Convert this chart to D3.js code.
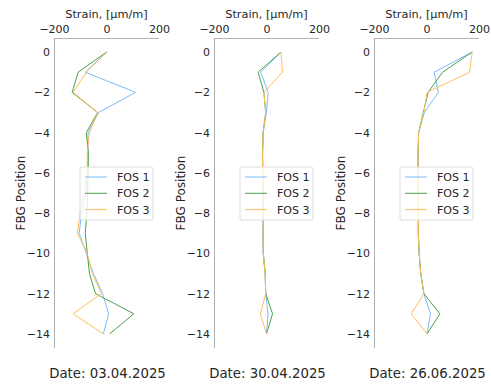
<!DOCTYPE html>
<html><head><meta charset="utf-8">
<script src="https://cdn.jsdelivr.net/npm/d3@7"></script>
<style>html,body{margin:0;padding:0;background:#fff;} svg{display:block;font-family:"DejaVu Sans",sans-serif;}</style>
</head><body><svg id="c" width="491" height="385"></svg>
<script>
const positions = [0,-1,-2,-3,-4,-5,-6,-7,-8,-9,-10,-11,-12,-13,-14];
const seriesNames = ["FOS 1","FOS 2","FOS 3"];
const dates = ["Date: 03.04.2025","Date: 30.04.2025","Date: 26.06.2025"];
const xTicks = [-200,0,200];
const yTicks = [0,-2,-4,-6,-8,-10,-12,-14];

// Panel 1: 03.04.2025
const p1_fos1 = [0,-81,111,-30,-70,-72,-72,-80,-95,-104,-77,-50,-15,8,-12];
const p1_fos2 = [0,-108,-131,-34,-77,-69,-70,-72,-75,-81,-73,-65,-42,104,12];
const p1_fos3 = [0,-77,-127,-34,-65,-73,-74,-85,-100,-111,-73,-54,-19,-127,-12];
// Panel 2: 30.04.2025
const p2_fos1 = [55,-22,6,0,-13,-15,-15,-14,-12,-13,-13,-5,-3,6,0];
const p2_fos2 = [55,-32,-10,-3,-13,-15,-14,-13,-12,-13,-12,-5,-3,23,0];
const p2_fos3 = [55,61,-10,-3,-13,-15,-15,-14,-12,-13,-12,-5,-3,-23,0];
// Panel 3: 26.06.2025
const p3_fos1 = [174,29,45,-8,-30,-32,-32,-31,-31,-32,-28,-22,-10,15,2];
const p3_fos2 = [174,61,6,-12,-30,-32,-32,-31,-31,-31,-28,-22,-10,51,2];
const p3_fos3 = [174,164,2,-10,-30,-32,-32,-31,-31,-31,-28,-22,-10,-58,2];

(function(){
const panels = [
  {date: dates[0], series: [p1_fos1,p1_fos2,p1_fos3]},
  {date: dates[1], series: [p2_fos1,p2_fos2,p2_fos3]},
  {date: dates[2], series: [p3_fos1,p3_fos2,p3_fos3]}
];
const colors = ["#78bcff","#4e9f4e","#ffbf5c"];

const svg = d3.select("#c");
const panelW = 105, plotTop = 38, plotBottom = 348;
const panelLeft = [54, 214, 374];
const x = d3.scaleLinear().domain([-200,200]).range([0, panelW]);
const y = d3.scaleLinear().domain([0.7,-14.7]).range([plotTop, plotBottom]);
const fmt = d => d < 0 ? "\u2212" + Math.abs(d) : String(d);

panels.forEach((p, i) => {
  const g = svg.append("g").attr("transform", `translate(${panelLeft[i]},0)`);
  const ax = g.append("g").attr("transform", `translate(0,${plotTop})`)
    .call(d3.axisTop(x).tickValues(xTicks).tickSize(0).tickPadding(5).tickFormat(fmt));
  const ay = g.append("g")
    .call(d3.axisLeft(y).tickValues(yTicks).tickSize(0).tickPadding(4).tickFormat(fmt));
  [ax, ay].forEach(a => {
    a.select(".domain").attr("stroke", "#b0b0b0").attr("stroke-width", 1);
    a.selectAll("text").attr("font-size", 11).attr("fill", "#262626").attr("font-family", "DejaVu Sans");
  });
  ay.select(".domain").attr("d", `M0.5,${plotTop}V${plotBottom}`);
  ax.select(".domain").attr("d", `M0,0.5H${panelW}`);

  const line = d3.line().x(d => x(d[0])).y(d => y(d[1]));
  p.series.forEach((s, k) => {
    g.append("path").datum(s.map((v, j) => [v, positions[j]]))
      .attr("d", line).attr("fill", "none").attr("stroke", colors[k]).attr("stroke-width", 1);
  });

  g.append("text").attr("x", panelW/2).attr("y", 18).attr("text-anchor", "middle")
    .attr("font-size", 11.3).attr("fill", "#262626").text("Strain, [\u00b5m/m]");
  g.append("text").attr("transform", `translate(-29,${(plotTop+plotBottom)/2}) rotate(-90)`)
    .attr("text-anchor", "middle").attr("font-size", 12).attr("fill", "#262626").text("FBG Position");
  g.append("text").attr("x", panelW/2 + 1).attr("y", 378).attr("text-anchor", "middle")
    .attr("font-size", 13.3).attr("fill", "#262626").text(p.date);

  const lg = g.append("g").attr("transform", "translate(26,167)");
  lg.append("rect").attr("x", 0).attr("y", 0).attr("width", 73).attr("height", 53).attr("rx", 2)
    .attr("fill", "#fff").attr("fill-opacity", 0.8).attr("stroke", "#dcdcdc").attr("stroke-width", 1);
  seriesNames.forEach((n, k) => {
    const yy = 10 + k * 16.3;
    lg.append("line").attr("x1", 5).attr("x2", 27).attr("y1", yy).attr("y2", yy)
      .attr("stroke", colors[k]).attr("stroke-width", 1);
    lg.append("text").attr("x", 37).attr("y", yy + 4).attr("font-size", 11).attr("fill", "#262626").text(n);
  });
});
})();
</script></body></html>
